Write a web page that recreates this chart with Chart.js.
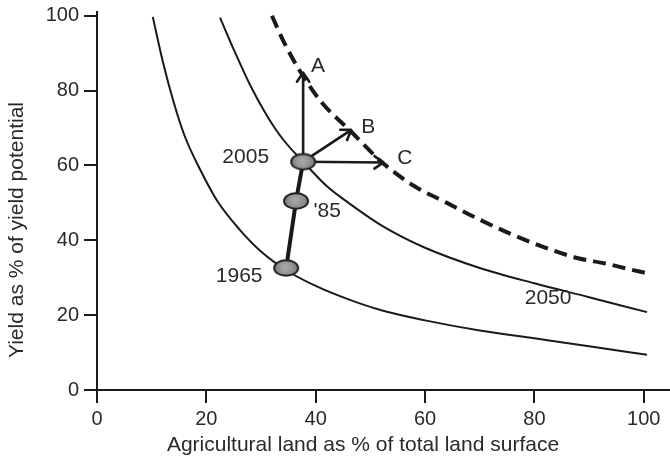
<!DOCTYPE html>
<html>
<head>
<meta charset="utf-8">
<script src="https://cdn.jsdelivr.net/npm/chart.js@4.4.1/dist/chart.umd.min.js"></script>
<style>
    html, body { margin: 0; padding: 0; background: #fff; }
    #wrap { width: 670px; height: 462px; }
</style>
</head>
<body>
<div id="wrap"><canvas id="land-chart" width="670" height="462"></canvas></div>
<script>
'use strict';

// Iso-production curves: land share (x) vs yield share (y)
const land1965 = [10.2, 12, 14, 16, 19, 22, 26, 30, 34.6, 40, 46, 52, 60, 70, 80, 90, 100.6];
const yield1965 = [99.7, 88, 77, 68, 58.5, 50.5, 43, 37, 32, 27.8, 24.2, 21.3, 18.6, 15.9, 13.8, 11.7, 9.4];

const land2005 = [22.5, 25, 28, 31, 34, 37.7, 42, 46, 52, 60, 70, 80, 90, 100.6];
const yield2005 = [99.5, 91, 81.5, 73.5, 67, 61, 54.5, 50, 44, 38, 32.6, 28.5, 24.8, 20.8];

const land2050 = [32, 34, 37, 41, 46.5, 52, 58, 64, 70, 76, 83, 88, 93, 97, 100.6];
const yield2050 = [100, 93.5, 85.5, 77, 69, 61, 54.5, 50, 45.5, 41.5, 37.5, 35.2, 33.8, 32.4, 31.2];

// Historical path 1965 -> '85 -> 2005
const pathLand = [34.6, 36.4, 37.7];
const pathYield = [32.6, 50.5, 61];

// Options from 2005: A (yield), B (both), C (land)
const optionNames = ['A', 'B', 'C'];
const optionLand = [37.7, 46.5, 52.4];
const optionYield = [84.8, 69.5, 60.8];

// Text notes on the plot
const noteText = ['A', 'B', 'C', '2005', "'85", '1965', '2050'];
const noteLand = [40.4, 49.6, 56.3, 27.2, 42.1, 26, 82.5];
const noteYield = [86.6, 70.3, 62, 62.2, 47.8, 30.5, 24.6];

const xTicks = [0, 20, 40, 60, 80, 100];
const yTicks = [0, 20, 40, 60, 80, 100];

const FONT = "'Liberation Sans', Arial, sans-serif";
const INK = '#1a1a1a';
const TEXT = '#2a2a2a';

function pts(xs, ys) {
    return xs.map((v, i) => ({ x: v, y: ys[i] }));
}

// grey ellipse used as marker on the path
function ellipseMarker() {
    const c = document.createElement('canvas');
    c.width = 28; c.height = 20;
    const g = c.getContext('2d');
    const grad = g.createRadialGradient(13, 9, 1, 14, 10, 13);
    grad.addColorStop(0, '#a8a8a8');
    grad.addColorStop(1, '#7a7a7a');
    g.beginPath();
    g.ellipse(14, 10, 12, 7.8, 0, 0, Math.PI * 2);
    g.fillStyle = grad;
    g.fill();
    g.lineWidth = 2;
    g.strokeStyle = '#222';
    g.stroke();
    return c;
}

const notesPlugin = {
    id: 'notes',
    afterDatasetsDraw(chart) {
        const { ctx, scales: { x, y } } = chart;
        chart.data.datasets.forEach((ds, i) => {
            if (!ds.arrowHead) return;
            const p = chart.getDatasetMeta(i).data;
            const a = p[0], b = p[p.length - 1];
            const ang = Math.atan2(b.y - a.y, b.x - a.x);
            const len = 11;
            ctx.save();
            ctx.strokeStyle = ds.borderColor;
            ctx.lineWidth = ds.borderWidth;
            ctx.lineCap = 'round';
            ctx.lineJoin = 'round';
            ctx.beginPath();
            ctx.moveTo(b.x - len * Math.cos(ang - 0.6), b.y - len * Math.sin(ang - 0.6));
            ctx.lineTo(b.x, b.y);
            ctx.lineTo(b.x - len * Math.cos(ang + 0.6), b.y - len * Math.sin(ang + 0.6));
            ctx.stroke();
            ctx.restore();
        });

        ctx.save();
        ctx.fillStyle = TEXT;
        ctx.font = '21px ' + FONT;
        ctx.textAlign = 'center';
        ctx.textBaseline = 'middle';
        noteText.forEach((t, i) => {
            ctx.fillText(t, x.getPixelForValue(noteLand[i]), y.getPixelForValue(noteYield[i]));
        });

        // axis titles
        ctx.fillText('Agricultural land as % of total land surface', 363, 445);
        ctx.translate(17, 230);
        ctx.rotate(-Math.PI / 2);
        ctx.fillText('Yield as % of yield potential', 0, 0);
        ctx.restore();
    }
};

const marker = ellipseMarker();

const datasets = [
    {
        data: pts(pathLand, pathYield),
        borderColor: INK,
        borderWidth: 4,
        pointStyle: marker,
        pointRadius: 10,
        tension: 0,
    },
    ...optionNames.map((name, i) => ({
        label: name,
        data: pts([pathLand[2], optionLand[i]], [pathYield[2], optionYield[i]]),
        borderColor: INK,
        borderWidth: 2.6,
        pointRadius: 0,
        arrowHead: true,
    })),
    {
        data: pts(land2050, yield2050),
        borderColor: INK,
        borderWidth: 4,
        borderDash: [13, 7],
        pointRadius: 0,
        cubicInterpolationMode: 'monotone',
    },
    {
        data: pts(land2005, yield2005),
        borderColor: INK,
        borderWidth: 2,
        pointRadius: 0,
        cubicInterpolationMode: 'monotone',
    },
    {
        data: pts(land1965, yield1965),
        borderColor: INK,
        borderWidth: 2,
        pointRadius: 0,
        cubicInterpolationMode: 'monotone',
    },
];

function fixedTicks(list) {
    return (axis) => { axis.ticks = list.map((v) => ({ value: v })); };
}

// the x axis runs to the right edge of the canvas; drop the label overhang margin
function fitX(s) {
    s.height = 72;
    s.paddingLeft = 0;
    s.paddingRight = 0;
    if (s._margins) s._margins.right = 0;
}

function fitY(s) {
    s.width = 97;
    s.paddingTop = 0;
    s.paddingBottom = 0;
}

new Chart(document.getElementById('land-chart'), {
    type: 'line',
    data: { datasets },
    options: {
        responsive: false,
        animation: false,
        events: [],
        layout: { autoPadding: false, padding: { top: 12, left: 0, right: 0, bottom: 0 } },
        plugins: { legend: { display: false }, tooltip: { enabled: false } },
        scales: {
            x: {
                type: 'linear',
                min: 0,
                max: 104.8,
                afterBuildTicks: fixedTicks(xTicks),
                afterFit: fitX,
                border: { display: true, color: INK, width: 2 },
                grid: { drawOnChartArea: false, drawTicks: true, tickLength: 13, color: INK, lineWidth: 2 },
                ticks: { color: TEXT, padding: 4, maxRotation: 0, font: { family: FONT, size: 20 } },
            },
            y: {
                type: 'linear',
                min: 0,
                max: 101,
                afterBuildTicks: fixedTicks(yTicks),
                afterFit: fitY,
                border: { display: true, color: INK, width: 2 },
                grid: { drawOnChartArea: false, drawTicks: true, tickLength: 13, color: INK, lineWidth: 2 },
                ticks: { color: TEXT, padding: 5, font: { family: FONT, size: 20 } },
            },
        },
    },
    plugins: [notesPlugin],
});
</script>
</body>
</html>
